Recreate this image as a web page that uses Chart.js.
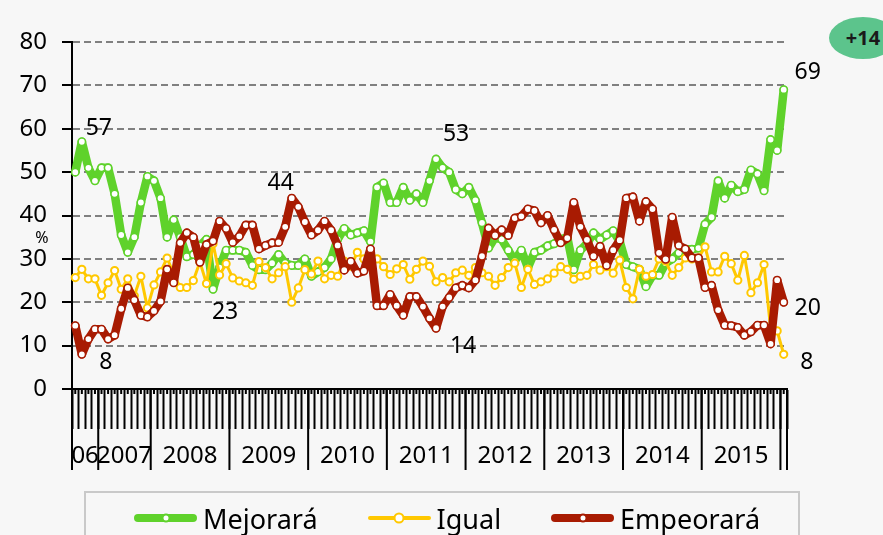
<!DOCTYPE html>
<html lang="es">
<head>
    <meta charset="UTF-8">
    <title>Expectativas: Mejorará / Igual / Empeorará</title>
    <script src="https://cdn.jsdelivr.net/npm/chart.js"></script>
    <style>
        body {
            margin: 0;
            background: #f7f7f7;
            font-family: "Noto Sans", sans-serif;
            overflow: hidden;
        }
        .wrap {
            position: relative;
            width: 883px;
            height: 535px;
            overflow: hidden;
        }
        #chart { position: absolute; left: 0; top: 0; }
        .legend {
            position: absolute;
            left: 84px;
            top: 491px;
            width: 716px;
            height: 70px;
            border: 2px solid #c9c9c9;
            box-sizing: border-box;
            display: flex;
            gap: 50px;
            padding-left: 48px;
        }
        .item {
            display: flex;
            align-items: center;
            height: 36px;
            margin-top: 7px;
            font-size: 27px;
            color: #000;
        }
        .swatch {
            position: relative;
            width: 63px;
            height: 36px;
            margin-right: 6px;
        }
        .swatch .ln {
            position: absolute;
            left: 0; right: 0;
            top: 50%;
            transform: translateY(-50%);
            border-radius: 4px;
        }
        .swatch .dot {
            position: absolute;
            left: 50%; top: 50%;
            transform: translate(-50%, -50%);
            background: #fff;
            border-radius: 50%;
            box-sizing: border-box;
        }
        .badge {
            position: absolute;
            left: 829px;
            top: 17px;
            width: 68px;
            height: 42px;
            border-radius: 50%;
            background: #5cc48c;
            font-weight: bold;
            font-size: 20px;
            line-height: 42px;
            text-align: center;
            color: #1a1a1a;
        }
    </style>
</head>
<body>
<div class="wrap">
    <canvas id="chart" width="883" height="535"></canvas>
    <div class="legend" id="legend"></div>
    <div class="badge">+14</div>
</div>
<script>
    // year groups on the axis (number of surveys in each)
    const yearLabels = ['06', '2007', '2008', '2009', '2010', '2011', '2012', '2013', '2014', '2015', ''];
    const yearCounts = [4, 8, 12, 12, 12, 12, 12, 12, 12, 12, 1];

    const seriesNames = ['Mejorará', 'Igual', 'Empeorará'];

    const mejorara = [
        50, 57, 51, 48,
        51, 51, 45, 35.5, 31.5, 35, 43, 49,
        48, 44, 35, 39, 35, 30.5, 31, 33, 34.5, 23, 28, 32,
        32, 32, 31.5, 28.5, 27.5, 27.5, 29, 31, 29, 28.5, 28.5, 30,
        26, 27, 28, 30, 34.5, 37, 35.5, 36, 36.5, 34, 46.5, 47.5,
        43, 43, 46.5, 43.5, 45, 43, 48, 53, 51, 50, 46, 45,
        46.5, 43.5, 38.3, 32.5, 35, 34.5, 32, 29.5, 32, 28, 31.5, 32,
        33, 33.5, 34.5, 35, 27.5, 32, 33.5, 36, 34.5, 35.5, 36.5, 34,
        28.7, 28.2, 27.6, 23.6, 26.2, 26.2, 29, 30, 31.4, 32.2, 32.2, 32.5,
        38, 39.6, 48, 44, 47, 45.5, 46, 50.5, 49.6, 45.7, 57.5, 55,
        69
    ];

    const igual = [
        25.7, 27.6, 25.4, 25.4,
        21.6, 24.5, 27.3, 23, 25.4, 21.5, 26, 18.7,
        24, 27, 30.2, 26.5, 23.4, 23.4, 25, 29.3, 24.3, 33.5, 26.3, 28.9,
        25.6, 24.9, 24.5, 23.9, 29.4, 28, 25.4, 26.8, 28.2, 20, 23.3, 27.5,
        26.5, 29.5, 25.4, 26.2, 26, 29.5, 28.3, 31.5, 30, 31.4, 30, 28.2,
        26.4, 27.7, 28.7, 25.3, 27.6, 29.5, 28.3, 24.7, 25.7, 24.7, 26.8, 27.4,
        26.2, 28, 26.8, 26, 23.9, 25.7, 28, 29, 23.4, 27.6, 24.1, 24.7,
        25.4, 26.7, 28.2, 27.6, 25.3, 26, 26.2, 28.7, 27.4, 28.2, 26.7, 29.7,
        23.4, 20.8, 27.6, 26, 26.4, 30, 29.5, 26.2, 28, 30.2, 30, 30.2,
        32.8, 27, 27, 30.6, 28.9, 25.1, 30.8, 22.2, 24.5, 28.7, 14, 13.4,
        8
    ];

    const empeorara = [
        14.6, 8, 11.5, 13.8,
        13.8, 11.5, 12.4, 18.5, 23.3, 20.5, 17, 16.6,
        18, 20.2, 27.6, 24.5, 33.7, 36, 35, 29.2, 33.3, 34.1, 38.7, 37,
        33.8, 35.2, 37.8, 37.8, 32.3, 33.1, 33.7, 33.8, 37.4, 44, 42, 38.5,
        35.5, 36.6, 38.7, 36.6, 33.1, 27.4, 29.4, 26.7, 27.2, 32.3, 19.2, 19.2,
        21.8, 19.2, 17, 21.3, 21.3, 19, 16.3, 14, 19, 21.1, 23.3, 23.9,
        23.3, 25.1, 30.6, 37.1, 35.4, 36.7, 35.4, 39.4, 39.8, 41.5, 41.1, 38.3,
        40, 36.7, 33.7, 34.8, 43, 37.4, 34.4, 30.6, 32.9, 28.5, 32, 34.3,
        44, 44.3, 38.7, 43.2, 41.5, 31.4, 29.9, 39.6, 33.1, 32.3, 30.2, 30.2,
        23.4, 23.9, 18.2, 14.7, 14.6, 14.2, 12.4, 13.2, 14.7, 14.7, 10.4, 25.1,
        20
    ];

    // [dataset, point index, dx, dy] for the value callouts
    const callouts = [
        [0, 1, 17, -13], [2, 1, 24, 8], [0, 21, 12, 23], [2, 33, -11, -15],
        [0, 55, 20, -25], [2, 55, 27, 18], [0, 108, 24, -17], [2, 108, 24, 6], [1, 108, 23, 8]
    ];

    const colors = ['#5fd22b', '#ffc800', '#a81b02'];
    const lineWidths = [8.5, 3, 8.5];

    // one category per survey, named after its year group
    const categories = [];
    yearCounts.forEach((n, g) => {
        for (let k = 0; k < n; k++) categories.push(yearLabels[g] + ':' + (k + 1));
    });

    const FONT = '"Noto Sans", sans-serif';

    const axisDecor = {
        id: 'axisDecor',
        afterDraw(chart) {
            const { ctx, scales: { x, y } } = chart;
            const bottom = y.bottom;
            const half = (x.getPixelForValue(1) - x.getPixelForValue(0)) / 2;
            ctx.save();
            ctx.strokeStyle = '#000';
            ctx.lineWidth = 2;
            ctx.beginPath();
            for (let i = 0; i < categories.length; i++) {
                const px = x.getPixelForValue(i);
                ctx.moveTo(px, bottom);
                ctx.lineTo(px, bottom + 5);
            }
            ctx.stroke();

            ctx.fillStyle = '#000';
            ctx.font = '24px ' + FONT;
            ctx.textAlign = 'center';
            ctx.textBaseline = 'middle';
            let start = 0;
            ctx.beginPath();
            yearCounts.forEach((n, g) => {
                const left = x.getPixelForValue(start) - half;
                const right = x.getPixelForValue(start + n - 1) + half;
                ctx.moveTo(left, bottom);
                ctx.lineTo(left, bottom + 81);
                if (g === yearCounts.length - 1) {
                    ctx.moveTo(right, bottom);
                    ctx.lineTo(right, bottom + 81);
                }
                if (yearLabels[g]) ctx.fillText(yearLabels[g], (left + right) / 2, bottom + 67);
                start += n;
            });
            ctx.stroke();

            ctx.font = '16px ' + FONT;
            ctx.fillText('%', y.right - 30, y.getPixelForValue(34.6));
            ctx.restore();
        }
    };

    const valueLabels = {
        id: 'valueLabels',
        afterDatasetsDraw(chart) {
            const ctx = chart.ctx;
            ctx.save();
            ctx.fillStyle = '#000';
            ctx.font = '23px ' + FONT;
            ctx.textAlign = 'center';
            ctx.textBaseline = 'middle';
            callouts.forEach(([ds, i, dx, dy]) => {
                const pt = chart.getDatasetMeta(ds).data[i];
                const v = chart.data.datasets[ds].data[i];
                ctx.fillText(String(Math.round(v)), pt.x + dx, pt.y + dy);
            });
            ctx.restore();
        }
    };

    const seriesData = [mejorara, igual, empeorara];
    const datasets = seriesData.map((d, k) => ({
        label: seriesNames[k],
        data: d,
        borderColor: colors[k],
        borderWidth: lineWidths[k],
        pointRadius: k === 1 ? 3.6 : 3.7,
        pointBorderWidth: k === 1 ? 2 : 1.6,
        pointBorderColor: colors[k],
        pointBackgroundColor: '#fff',
        order: 3 - k
    }));

    new Chart(document.getElementById('chart'), {
        type: 'line',
        data: { labels: categories, datasets: datasets },
        options: {
            responsive: false,
            animation: false,
            devicePixelRatio: 1,
            layout: { padding: { top: 42, right: 96, left: 0, bottom: 0 } },
            elements: { line: { tension: 0, borderJoinStyle: 'round', borderCapStyle: 'round' } },
            plugins: { legend: { display: false }, tooltip: { enabled: false } },
            scales: {
                x: {
                    offset: true,
                    grid: { offset: true, drawOnChartArea: false, tickLength: 40, tickColor: '#000', tickWidth: 2 },
                    border: { color: '#000', width: 2 },
                    ticks: { display: false, autoSkip: false },
                    afterFit: s => { s.height = 146; }
                },
                y: {
                    min: 0,
                    max: 80,
                    ticks: { stepSize: 10, color: '#000', padding: 15, font: { size: 24, family: 'Noto Sans' } },
                    grid: {
                        color: c => c.tick.value === 0 ? 'rgba(0,0,0,0)' : '#808080',
                        lineWidth: 2,
                        tickColor: '#000',
                        tickLength: 10,
                        tickWidth: 2
                    },
                    border: { color: '#000', width: 2, dash: [7, 4] },
                    afterFit: s => { s.width = 72; }
                }
            }
        },
        plugins: [axisDecor, valueLabels]
    });

    // legend
    const legend = document.getElementById('legend');
    seriesNames.forEach((name, k) => {
        const item = document.createElement('div');
        item.className = 'item';
        const sw = document.createElement('div');
        sw.className = 'swatch';
        const ln = document.createElement('div');
        ln.className = 'ln';
        ln.style.height = (k === 1 ? 4 : 8) + 'px';
        ln.style.background = colors[k];
        const dot = document.createElement('div');
        dot.className = 'dot';
        const r = k === 1 ? 11 : 9;
        dot.style.width = r + 'px';
        dot.style.height = r + 'px';
        dot.style.border = '2px solid ' + colors[k];
        sw.appendChild(ln);
        sw.appendChild(dot);
        item.appendChild(sw);
        item.appendChild(document.createTextNode(name));
        legend.appendChild(item);
    });
</script>
</body>
</html>
